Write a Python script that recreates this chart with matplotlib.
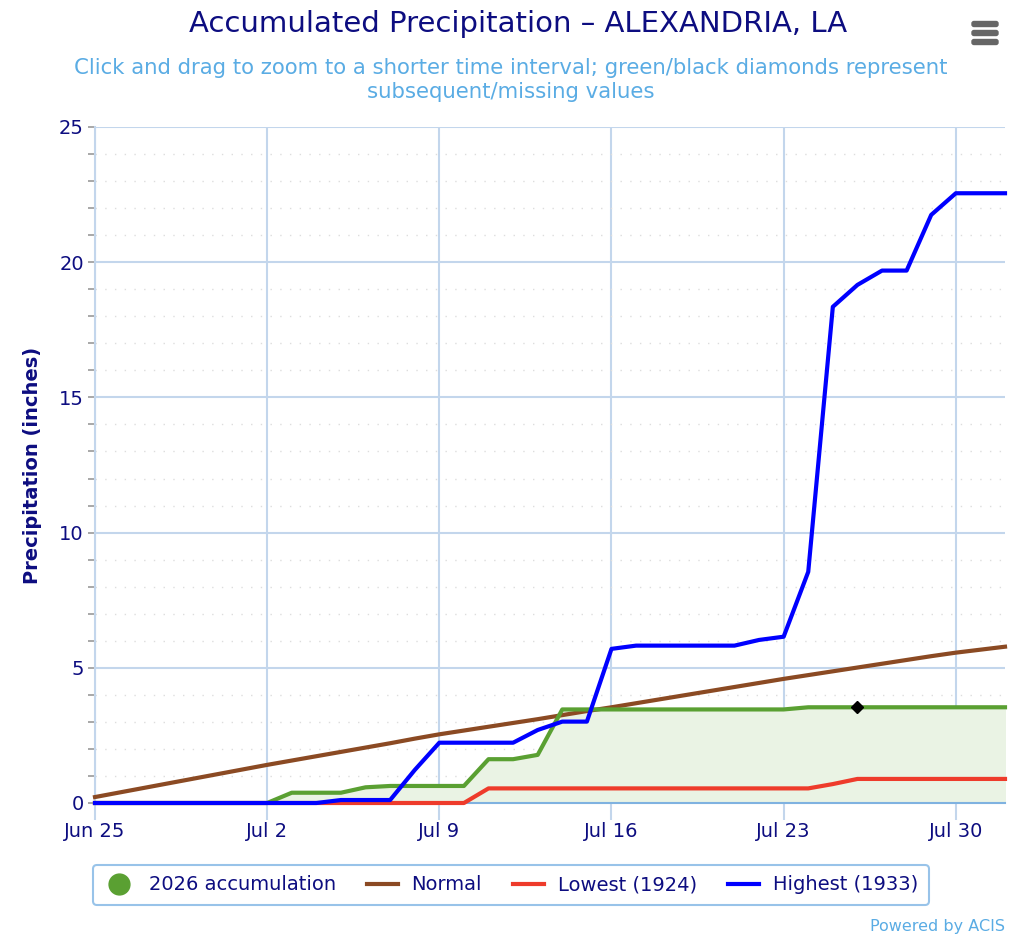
import matplotlib
matplotlib.use("Agg")
import matplotlib.pyplot as plt
import matplotlib.dates as mdates
from matplotlib.patches import FancyBboxPatch
from matplotlib.lines import Line2D
import numpy as np
import pandas as pd

dates = pd.date_range("2026-06-25", "2026-08-01", freq="D")

accum_2026 = [0, 0, 0, 0, 0, 0, 0, 0, 0.38, 0.38, 0.38, 0.58, 0.63, 0.63, 0.63, 0.63,
              1.62, 1.62, 1.78, 3.46, 3.46, 3.46, 3.46, 3.46, 3.46, 3.46, 3.46, 3.46,
              3.46, 3.54, 3.54, 3.54, 3.54, 3.54, 3.54, 3.54, 3.54, 3.54]
normal = [0.22, 0.39, 0.56, 0.73, 0.90, 1.07, 1.24, 1.41, 1.57, 1.73, 1.89, 2.05, 2.21,
          2.38, 2.54, 2.68, 2.82, 2.96, 3.10, 3.25, 3.40, 3.54, 3.69, 3.84, 3.99, 4.14,
          4.29, 4.44, 4.59, 4.73, 4.87, 5.01, 5.15, 5.29, 5.43, 5.56, 5.67, 5.78]
lowest_1924 = [0, 0, 0, 0, 0, 0, 0, 0, 0, 0, 0, 0, 0, 0, 0, 0,
               0.54, 0.54, 0.54, 0.54, 0.54, 0.54, 0.54, 0.54, 0.54, 0.54, 0.54, 0.54,
               0.54, 0.54, 0.70, 0.89, 0.89, 0.89, 0.89, 0.89, 0.89, 0.89]
highest_1933 = [0, 0, 0, 0, 0, 0, 0, 0, 0, 0, 0.11, 0.11, 0.11, 1.22, 2.23, 2.23,
                2.23, 2.23, 2.70, 3.01, 3.01, 5.70, 5.82, 5.82, 5.82, 5.82, 5.82, 6.03,
                6.15, 8.55, 18.35, 19.16, 19.69, 19.69, 21.75, 22.55, 22.55, 22.55]
missing_dates = ["2026-07-26"]
missing_values = [3.54]

x_ticks = pd.to_datetime(["2026-06-25", "2026-07-02", "2026-07-09", "2026-07-16",
                          "2026-07-23", "2026-07-30"])
y_ticks = [0, 5, 10, 15, 20, 25]

NAVY = "#0d0d80"
GRID = "#c3d6ec"
SUB = "#5aace4"

fig = plt.figure(figsize=(10.24, 9.40), dpi=100)
ax = fig.add_axes([95/1024, 1-803/940, 910/1024, 676/940])

ax.fill_between(dates, accum_2026, 0, color="#eaf3e4", zorder=1)
ax.plot(dates, normal, color="#8b4a23", lw=3, zorder=3, clip_on=False)
ax.plot(dates, accum_2026, color="#5aa032", lw=3, zorder=4, clip_on=False)
ax.plot(dates, lowest_1924, color="#ee3b2b", lw=3, zorder=5, clip_on=False)
ax.plot(dates, highest_1933, color="#0000ff", lw=3, zorder=6, clip_on=False)
ax.plot(pd.to_datetime(missing_dates), missing_values, marker="D", color="black",
        ms=6, ls="none", zorder=7)

ax.set_xlim(dates[0], dates[-1])
ax.set_ylim(0, 25)
ax.set_xticks(x_ticks)
ax.xaxis.set_major_formatter(mdates.DateFormatter("%b %-d"))
ax.set_yticks(y_ticks)
ax.set_yticks(np.arange(0, 26, 1), minor=True)

ax.grid(which="major", color=GRID, lw=1.5, zorder=0)
ax.grid(which="minor", axis="y", color="#dddddd", lw=1, ls=(0, (1, 6)), zorder=0)
ax.set_axisbelow(True)
for s in ["top", "right"]:
    ax.spines[s].set_visible(False)
ax.spines["left"].set_color(GRID)
ax.spines["left"].set_linewidth(1.5)
ax.spines["bottom"].set_color("#7fb2e0")
ax.spines["bottom"].set_linewidth(1.5)

ax.tick_params(axis="x", which="major", length=12, color=GRID, width=1.5,
               labelsize=14, labelcolor=NAVY, pad=2)
ax.tick_params(axis="y", which="both", length=5, color="#999999", width=1.2,
               labelsize=14, labelcolor=NAVY, pad=3)
ax.tick_params(axis="y", which="minor", labelleft=False)

ax.set_ylabel("Precipitation (inches)", fontsize=14, fontweight="bold", color=NAVY,
              labelpad=12)

fig.text(518/1024, 1-24/940, "Accumulated Precipitation – ALEXANDRIA, LA", ha="center",
         va="center", fontsize=21, color=NAVY)
fig.text(511/1024, 1-80/940,
         "Click and drag to zoom to a shorter time interval; green/black diamonds represent\nsubsequent/missing values",
         ha="center", va="center", fontsize=15.3, color=SUB, linespacing=1.3)
fig.text(1005/1024, 1-927/940, "Powered by ACIS", ha="right", va="center",
         fontsize=11.5, color=SUB)

# menu icon
for yy in [24, 33, 42]:
    fig.patches.append(FancyBboxPatch((972/1024, 1-(yy+2.5)/940), 26/1024, 5/940,
                                      boxstyle="round,pad=0,rounding_size=0.002",
                                      transform=fig.transFigure, color="#666666"))

handles = [
    Line2D([], [], marker="o", color="#5aa032", ls="none", ms=15),
    Line2D([], [], color="#8b4a23", lw=3),
    Line2D([], [], color="#ee3b2b", lw=3),
    Line2D([], [], color="#0000ff", lw=3),
]
labels = ["2026 accumulation", "Normal", "Lowest (1924)", "Highest (1933)"]
leg = fig.legend(handles, labels, loc="center", bbox_to_anchor=(511/1024, 1-885/940),
                 ncol=4, frameon=True, fontsize=14, labelcolor=NAVY,
                 handlelength=1.6, columnspacing=1.6, handletextpad=0.7,
                 borderpad=0.55, fancybox=True)
leg.get_frame().set_edgecolor("#7fb5e4")
leg.get_frame().set_linewidth(1.5)

fig.savefig("out.png", dpi=100)
